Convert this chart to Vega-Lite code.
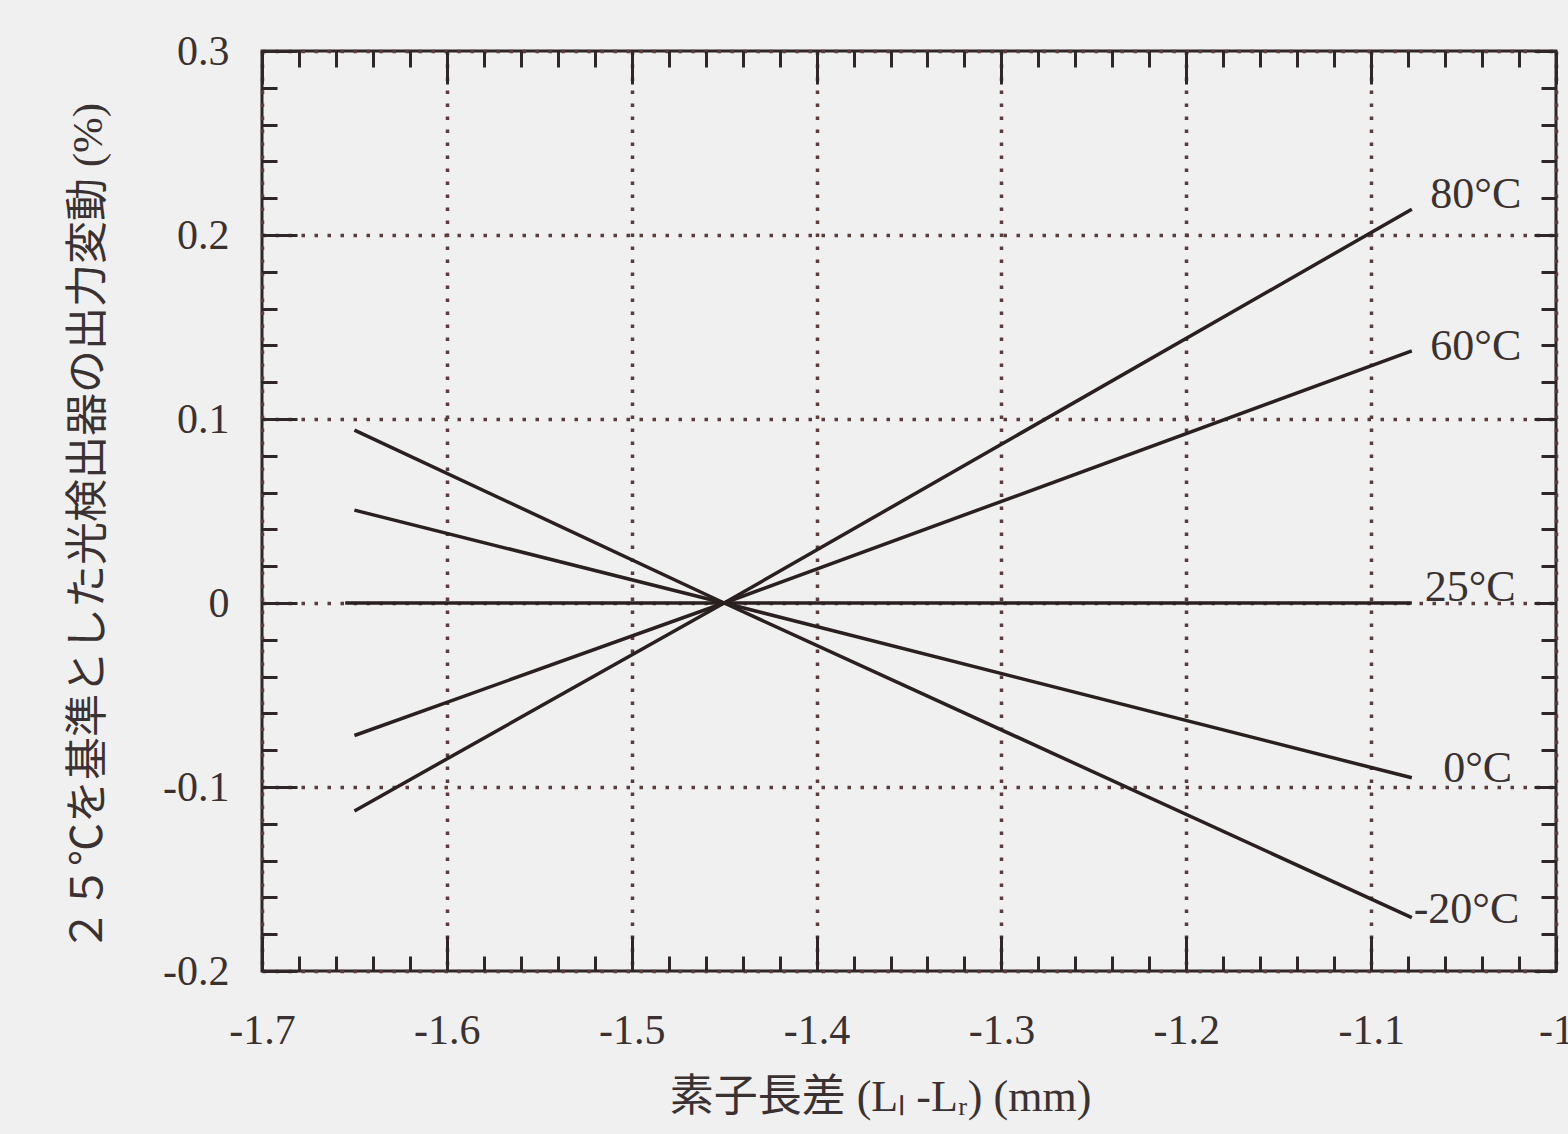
{
  "$schema": "https://vega.github.io/schema/vega-lite/v6.json",
  "autosize": {"type": "none"},
  "padding": {"left": 262, "top": 51, "right": 12, "bottom": 163},
  "width": 1294,
  "height": 920,
  "background": "#f1f0f0",
  "config": {
    "view": {"stroke": "#2f2727", "strokeWidth": 3},
    "axis": {"domain": false, "tickColor": "#2f2727", "tickWidth": 3, "labelColor": "#3a3232", "titleColor": "#3a3232"}
  },
  "datasets": {
    "curves": [
      {"series": "80°C", "x": -1.65, "y": -0.113},
      {"series": "80°C", "x": -1.45, "y": 0},
      {"series": "80°C", "x": -1.078, "y": 0.214},
      {"series": "60°C", "x": -1.65, "y": -0.072},
      {"series": "60°C", "x": -1.45, "y": 0},
      {"series": "60°C", "x": -1.078, "y": 0.137},
      {"series": "25°C", "x": -1.655, "y": 0},
      {"series": "25°C", "x": -1.45, "y": 0},
      {"series": "25°C", "x": -1.078, "y": 0},
      {"series": "0°C", "x": -1.65, "y": 0.0505},
      {"series": "0°C", "x": -1.45, "y": 0},
      {"series": "0°C", "x": -1.078, "y": -0.095},
      {"series": "-20°C", "x": -1.65, "y": 0.094},
      {"series": "-20°C", "x": -1.45, "y": 0},
      {"series": "-20°C", "x": -1.078, "y": -0.171}
    ],
    "labels": [
      {"label": "80°C", "x": -1.068, "y": 0.222},
      {"label": "60°C", "x": -1.068, "y": 0.139},
      {"label": "25°C", "x": -1.071, "y": 0.008},
      {"label": "0°C", "x": -1.061, "y": -0.09},
      {"label": "-20°C", "x": -1.077, "y": -0.167}
    ]
  },
  "resolve": {"axis": {"x": "independent", "y": "independent"}},
  "layer": [
    {
      "data": {"name": "curves"},
      "mark": {"type": "line", "color": "#2a2020", "strokeWidth": 3.5},
      "encoding": {
        "x": {
          "field": "x", "type": "quantitative",
          "scale": {"domain": [-1.7, -1.0], "nice": false, "zero": false},
          "axis": {
            "orient": "bottom",
            "values": [-1.7, -1.6, -1.5, -1.4, -1.3, -1.2, -1.1, -1.0],
            "labelExpr": "'' + datum.value",
            "tickSize": -35,
            "labelPadding": 74,
            "labelFlush": false,
            "labelOverlap": false,
            "labelFont": "Liberation Serif",
            "labelFontSize": 42,
            "grid": true,
            "gridColor": "#5a3c3c",
            "gridDash": [3.5, 9.5],
            "gridWidth": 3.5,
            "title": "素子長差 (Lₗ -Lᵣ) (mm)",
            "titleFont": "Liberation Serif, Noto Sans CJK JP",
            "titleFontSize": 44,
            "titleFontWeight": "normal",
            "titlePadding": 24,
            "titleX": 618
          }
        },
        "y": {
          "field": "y", "type": "quantitative",
          "scale": {"domain": [-0.2, 0.3], "nice": false, "zero": false},
          "axis": {
            "orient": "left",
            "values": [-0.2, -0.1, 0, 0.1, 0.2, 0.3],
            "labelExpr": "'' + datum.value",
            "tickSize": -35,
            "labelPadding": 68,
            "labelFlush": false,
            "labelOverlap": false,
            "labelFont": "Liberation Serif",
            "labelFontSize": 42,
            "grid": true,
            "gridColor": "#5a3c3c",
            "gridDash": [3.5, 9.5],
            "gridWidth": 3.5,
            "title": "２５℃を基準とした光検出器の出力変動 (%)",
            "titleFont": "Liberation Serif, Noto Sans CJK JP",
            "titleFontSize": 43,
            "titleFontWeight": "normal",
            "titlePadding": 52,
            "titleY": 476
          }
        },
        "detail": {"field": "series"}
      }
    },
    {
      "data": {"name": "labels"},
      "mark": {"type": "text", "align": "left", "baseline": "middle", "font": "Liberation Serif", "fontSize": 44, "color": "#3a3232"},
      "encoding": {
        "x": {
          "field": "x", "type": "quantitative",
          "axis": {
            "orient": "bottom",
            "values": [-1.68, -1.66, -1.64, -1.62, -1.58, -1.56, -1.54, -1.52, -1.48, -1.46, -1.44, -1.42, -1.38, -1.36, -1.34, -1.32, -1.28, -1.26, -1.24, -1.22, -1.18, -1.16, -1.14, -1.12, -1.08, -1.06, -1.04, -1.02],
            "tickSize": -15, "labels": false, "grid": false, "title": null
          }
        },
        "y": {
          "field": "y", "type": "quantitative",
          "axis": {
            "orient": "left",
            "values": [-0.18, -0.16, -0.14, -0.12, -0.08, -0.06, -0.04, -0.02, 0.02, 0.04, 0.06, 0.08, 0.12, 0.14, 0.16, 0.18, 0.22, 0.24, 0.26, 0.28],
            "tickSize": -15, "labels": false, "grid": false, "title": null
          }
        },
        "text": {"field": "label"}
      }
    },
    {
      "data": {"name": "curves"},
      "mark": {"type": "point", "opacity": 0},
      "encoding": {
        "x": {
          "field": "x", "type": "quantitative",
          "axis": {
            "orient": "top",
            "values": [-1.7, -1.6, -1.5, -1.4, -1.3, -1.2, -1.1, -1.0],
            "tickSize": -33, "labels": false, "grid": false, "title": null
          }
        },
        "y": {
          "field": "y", "type": "quantitative",
          "axis": {
            "orient": "right",
            "values": [-0.2, -0.1, 0, 0.1, 0.2, 0.3],
            "tickSize": -22, "labels": false, "grid": false, "title": null
          }
        }
      }
    },
    {
      "data": {"name": "curves"},
      "mark": {"type": "point", "opacity": 0},
      "encoding": {
        "x": {
          "field": "x", "type": "quantitative",
          "axis": {
            "orient": "top",
            "values": [-1.68, -1.66, -1.64, -1.62, -1.58, -1.56, -1.54, -1.52, -1.48, -1.46, -1.44, -1.42, -1.38, -1.36, -1.34, -1.32, -1.28, -1.26, -1.24, -1.22, -1.18, -1.16, -1.14, -1.12, -1.08, -1.06, -1.04, -1.02],
            "tickSize": -16, "labels": false, "grid": false, "title": null
          }
        },
        "y": {
          "field": "y", "type": "quantitative",
          "axis": {
            "orient": "right",
            "values": [-0.18, -0.16, -0.14, -0.12, -0.08, -0.06, -0.04, -0.02, 0.02, 0.04, 0.06, 0.08, 0.12, 0.14, 0.16, 0.18, 0.22, 0.24, 0.26, 0.28],
            "tickSize": -15, "labels": false, "grid": false, "title": null
          }
        }
      }
    }
  ]
}
